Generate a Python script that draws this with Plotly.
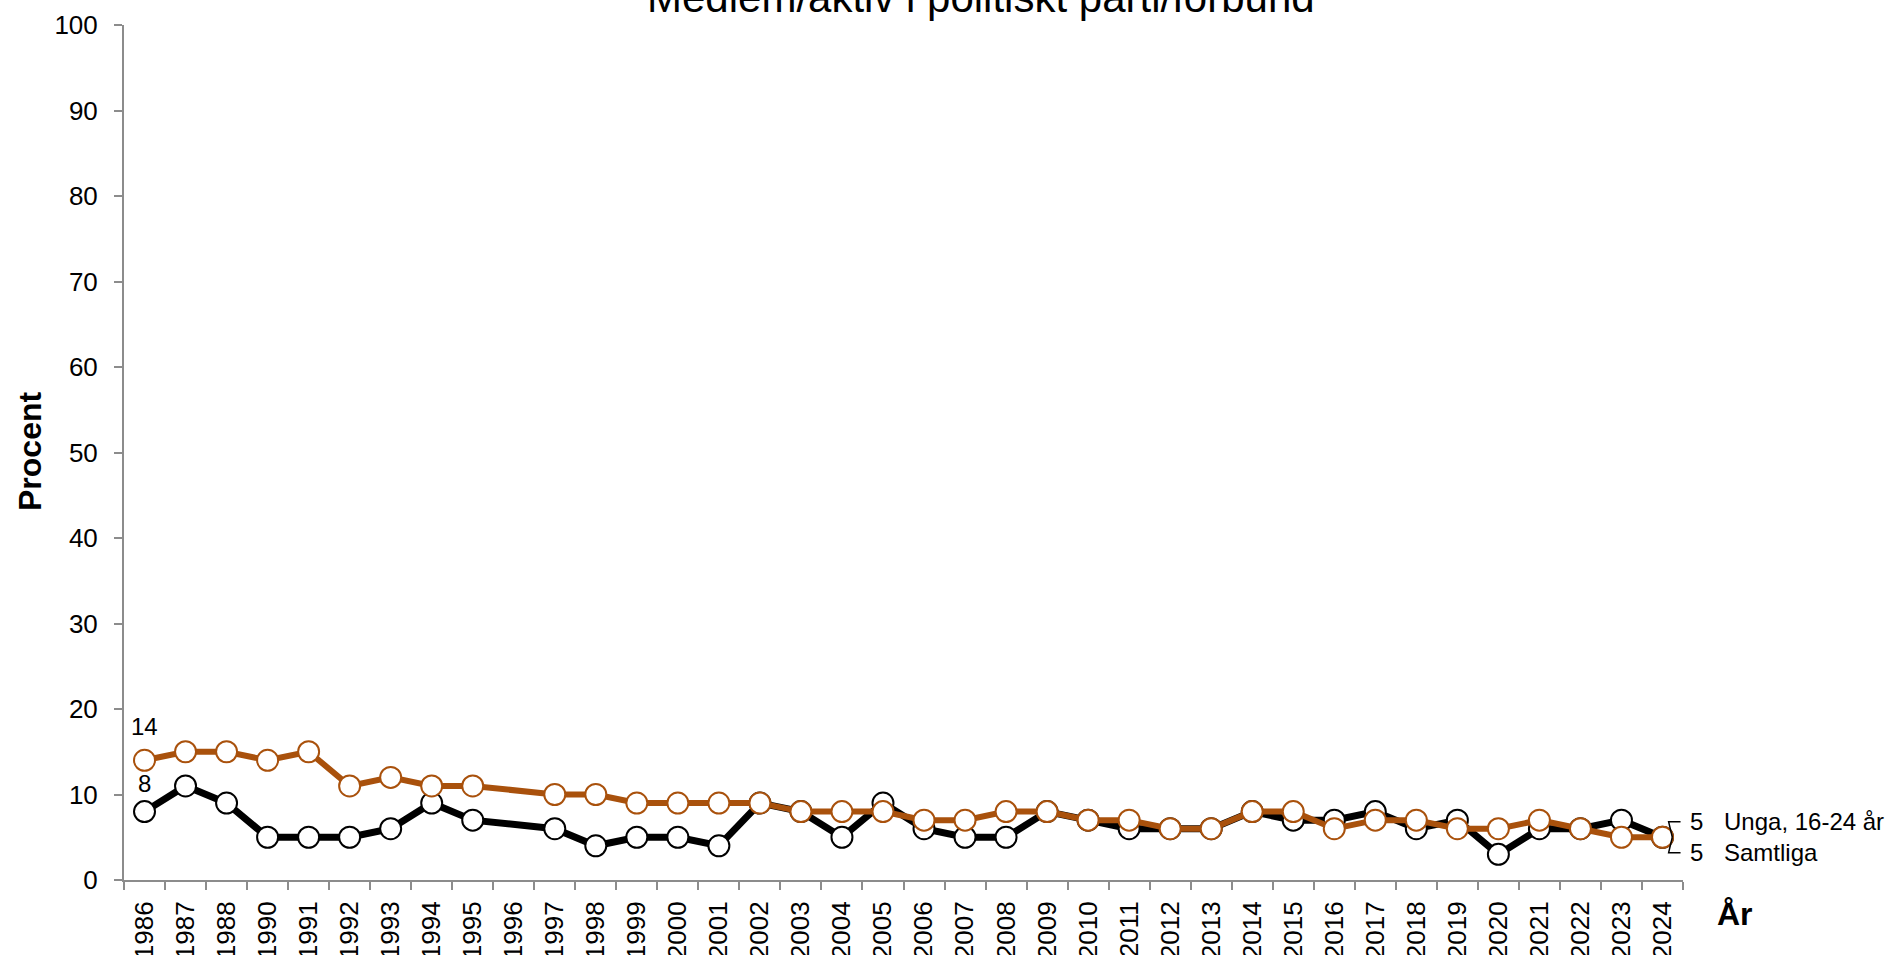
import plotly.graph_objects as go

years = ["1986", "1987", "1988", "1990", "1991", "1992", "1993", "1994", "1995", "1996",
         "1997", "1998", "1999", "2000", "2001", "2002", "2003", "2004", "2005", "2006",
         "2007", "2008", "2009", "2010", "2011", "2012", "2013", "2014", "2015", "2016",
         "2017", "2018", "2019", "2020", "2021", "2022", "2023", "2024"]

samtliga = [8, 11, 9, 5, 5, 5, 6, 9, 7, None,
            6, 4, 5, 5, 4, 9, 8, 5, 9, 6,
            5, 5, 8, 7, 6, 6, 6, 8, 7, 7,
            8, 6, 7, 3, 6, 6, 7, 5]

unga = [14, 15, 15, 14, 15, 11, 12, 11, 11, None,
        10, 10, 9, 9, 9, 9, 8, 8, 8, 7,
        7, 8, 8, 7, 7, 6, 6, 8, 8, 6,
        7, 7, 6, 6, 7, 6, 5, 5]

name_samtliga = "Samtliga"
name_unga = "Unga, 16-24 år"
title_text = "Medlem/aktiv i politiskt parti/förbund"
y_ticks = [0, 10, 20, 30, 40, 50, 60, 70, 80, 90, 100]
y_range = [0, 100]

ORANGE = "#A9510C"
BLACK = "#000000"
AXIS = "#8C8C8C"
FONT = "Arial, Liberation Sans, sans-serif"

W, H = 1886, 955
ml, mr, mt, mb = 124, 203, 25, 75
pw, ph = W - ml - mr, H - mt - mb
n = len(years)


def px_x(px):
    return (px - ml) / pw


def px_y(py):
    return (H - mb - py) / ph


def cat_paper(idx, dx=0.0):
    return (idx + 0.5 + dx) / n


def val_paper(v):
    return (v - y_range[0]) / (y_range[1] - y_range[0])


fig = go.Figure()

fig.add_trace(go.Scatter(
    x=years, y=samtliga, mode="lines+markers", name=name_samtliga,
    connectgaps=True,
    line=dict(color=BLACK, width=7),
    marker=dict(size=21, color="white", line=dict(color=BLACK, width=2)),
    cliponaxis=False,
))
fig.add_trace(go.Scatter(
    x=years, y=unga, mode="lines+markers", name=name_unga,
    connectgaps=True,
    line=dict(color=ORANGE, width=6),
    marker=dict(size=21, color="white", line=dict(color=ORANGE, width=2)),
    cliponaxis=False,
))

annotations = []
# first-point data labels
for val, shift in ((unga[0], 34), (samtliga[0], 28)):
    annotations.append(dict(x=cat_paper(0), y=val_paper(val), xref="paper", yref="paper",
                            text=str(val), showarrow=False, yshift=shift,
                            xanchor="center", yanchor="middle",
                            font=dict(size=24, color="black", family=FONT)))

last = n - 1
# end labels: value + series name
for val, name, yoff in [(unga[-1], name_unga, 1.8), (samtliga[-1], name_samtliga, -1.8)]:
    annotations.append(dict(x=cat_paper(last, 0.63), y=val_paper(val + yoff), xref="paper", yref="paper",
                            text=str(val), showarrow=False, xanchor="left", yanchor="middle",
                            font=dict(size=24, color="black", family=FONT)))
    annotations.append(dict(x=cat_paper(last, 1.46), y=val_paper(val + yoff), xref="paper", yref="paper",
                            text=name, showarrow=False, xanchor="left", yanchor="middle",
                            font=dict(size=24, color="black", family=FONT)))

# axis titles
annotations.append(dict(x=px_x(1735), y=px_y(914), xref="paper", yref="paper", text="<b>År</b>",
                        showarrow=False, xanchor="center", yanchor="middle",
                        font=dict(size=32, color="black", family=FONT)))
annotations.append(dict(x=px_x(30), y=px_y(452), xref="paper", yref="paper", text="<b>Procent</b>",
                        showarrow=False, textangle=-90, xanchor="center", yanchor="middle",
                        font=dict(size=32, color="black", family=FONT)))
# chart title (partly above the page edge, as in the reference)
annotations.append(dict(x=px_x(981), y=px_y(23), xref="paper", yref="paper", text=title_text,
                        showarrow=False, xanchor="center", yanchor="bottom",
                        font=dict(size=42, color="black", family=FONT)))

shapes = []
# leader lines for end labels
for val, yoff in [(unga[-1], 1.8), (samtliga[-1], -1.8)]:
    shapes.append(dict(type="path", xref="x", yref="y",
                       path=f"M {last + 0.44},{val + yoff} L {last + 0.15},{val + yoff} L {last + 0.24},{val}",
                       line=dict(color="black", width=1.5)))

fig.update_layout(
    width=W, height=H,
    margin=dict(l=ml, r=mr, t=mt, b=mb, autoexpand=False),
    paper_bgcolor="white", plot_bgcolor="white",
    showlegend=False,
    font=dict(family=FONT, color="black", size=26),
    xaxis=dict(type="category", categoryorder="array", categoryarray=years,
               range=[-0.5, n - 0.5], automargin=False,
               showline=True, linecolor=AXIS, linewidth=2,
               ticks="outside", tickson="boundaries", ticklen=8, tickcolor=AXIS, tickwidth=2,
               ticklabelstandoff=9,
               tickangle=-90, tickfont=dict(size=26, color="black", family=FONT),
               showgrid=False, zeroline=False),
    yaxis=dict(range=y_range, tickvals=y_ticks, automargin=False,
               showline=True, linecolor=AXIS, linewidth=2,
               ticks="outside", ticklen=8, tickcolor=AXIS, tickwidth=2,
               ticklabelstandoff=11,
               tickfont=dict(size=26, color="black", family=FONT),
               showgrid=False, zeroline=False),
    annotations=annotations,
    shapes=shapes,
)

fig.write_html("out.html", config={"displayModeBar": False},
               post_script="document.body.style.margin='0px';")
